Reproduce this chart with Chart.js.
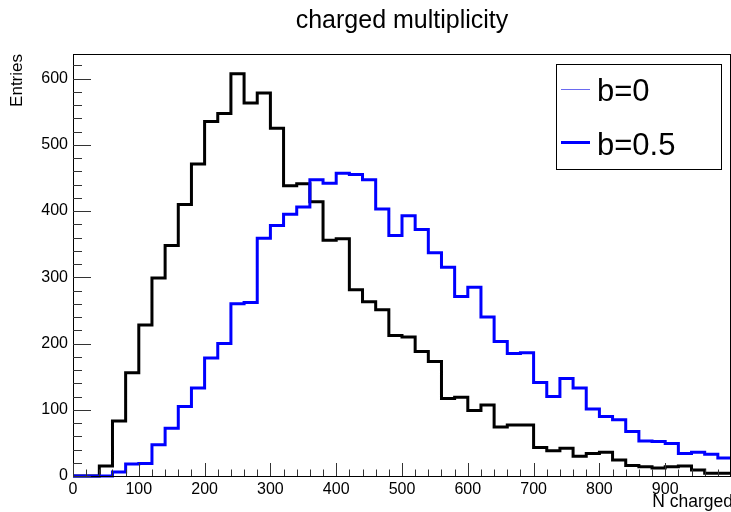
<!DOCTYPE html>
<html>
<head>
<meta charset="utf-8">
<title>charged multiplicity</title>
<script src="https://cdn.jsdelivr.net/npm/chart.js@4.4.1/dist/chart.umd.min.js"></script>
<style>
  html, body { margin: 0; padding: 0; background: #fff; }
  canvas { display: block; }
</style>
</head>
<body>
<canvas id="mult" width="731" height="512"></canvas>
<script>
// Histogram bins: lower edges of N charged, 20 wide
const binLow = [
  0, 20, 40, 60, 80, 100, 120, 140, 160, 180,
  200, 220, 240, 260, 280, 300, 320, 340, 360, 380,
  400, 420, 440, 460, 480, 500, 520, 540, 560, 580,
  600, 620, 640, 660, 680, 700, 720, 740, 760, 780,
  800, 820, 840, 860, 880, 900, 920, 940, 960, 980
];
const binWidth = 20;

// Entries per bin, impact parameter b=0
const entriesB0 = [
  0, 0, 15, 83, 156, 228, 299, 348, 410, 471,
  535, 547, 607, 563, 578, 525, 438, 441, 414, 356,
  358, 281, 263, 251, 212, 210, 188, 173, 117, 119,
  99, 107, 74, 77, 77, 43, 38, 42, 30, 34,
  36, 24, 16, 14, 12, 14, 15, 9, 4, 4
];

// Entries per bin, b=0.5
const entriesB05 = [
  0, 0, 0, 6, 18, 19, 47, 72, 105, 133,
  178, 200, 260, 262, 359, 378, 395, 406, 447, 442,
  457, 455, 447, 403, 363, 393, 372, 337, 315, 271,
  285, 240, 203, 185, 186, 141, 120, 147, 133, 101,
  90, 85, 67, 53, 52, 49, 34, 36, 33, 27
];

const xTickLabels = [0, 100, 200, 300, 400, 500, 600, 700, 800, 900];
const yTickLabels = [0, 100, 200, 300, 400, 500, 600];

const FONT = '"Liberation Sans", Arial, Helvetica, sans-serif';
const X_MAX = binLow[binLow.length - 1] + binWidth;
const Y_MAX = 637;

// step outline: a point at each lower edge, plus the last upper edge;
// drawn with stepped 'before' so each bin keeps its own count across its width
function stepPoints(values) {
  const pts = binLow.map((x, i) => ({ x: x, y: values[i] }));
  pts.push({ x: X_MAX, y: values[values.length - 1] });
  return pts;
}

// ROOT-style frame, inward ticks, titles and legend box
const rootDecor = {
  id: 'rootDecor',
  afterDatasetsDraw(chart) {
    const { ctx, chartArea: a, scales: { x, y } } = chart;
    ctx.save();
    ctx.strokeStyle = '#000';
    ctx.lineWidth = 1;
    ctx.strokeRect(a.left + 0.5, a.top + 0.5, a.right - a.left - 1, a.bottom - a.top);

    ctx.strokeStyle = '#333';
    ctx.beginPath();
    for (let v = 0; v <= Y_MAX; v += 20) {
      const py = Math.round(y.getPixelForValue(v)) + 0.5;
      const len = v % 100 === 0 ? 18 : 9;
      ctx.moveTo(a.left, py);
      ctx.lineTo(a.left + len, py);
    }
    for (let v = 0; v <= X_MAX; v += 20) {
      const px = Math.round(x.getPixelForValue(v)) + 0.5;
      const len = v % 100 === 0 ? 13 : 6.5;
      ctx.moveTo(px, a.bottom);
      ctx.lineTo(px, a.bottom - len);
    }
    ctx.stroke();
    ctx.restore();
  },
  afterDraw(chart) {
    const { ctx, chartArea: a } = chart;
    ctx.save();
    ctx.fillStyle = '#000';

    // title
    ctx.font = '25px ' + FONT;
    ctx.textAlign = 'center';
    ctx.textBaseline = 'alphabetic';
    ctx.fillText('charged multiplicity', 402, 28);

    // x title, right aligned to frame end
    ctx.font = '17.5px ' + FONT;
    ctx.textAlign = 'right';
    ctx.fillText('N charged', 733, 507);

    // y title, rotated, aligned to frame top
    ctx.save();
    ctx.translate(22, a.top);
    ctx.rotate(-Math.PI / 2);
    ctx.font = '17px ' + FONT;
    ctx.textAlign = 'right';
    ctx.fillText('Entries', 0, 0);
    ctx.restore();

    // legend box
    const bx = 556, by = 64, bw = 165, bh = 105;
    ctx.fillStyle = '#fff';
    ctx.fillRect(bx, by, bw, bh);
    ctx.strokeStyle = '#000';
    ctx.lineWidth = 1;
    ctx.strokeRect(bx + 0.5, by + 0.5, bw, bh);

    ctx.strokeStyle = '#6a6af0';
    ctx.lineWidth = 1;
    ctx.beginPath();
    ctx.moveTo(561, 89.5);
    ctx.lineTo(590, 89.5);
    ctx.stroke();

    ctx.strokeStyle = '#0000ff';
    ctx.lineWidth = 3;
    ctx.beginPath();
    ctx.moveTo(561, 142.5);
    ctx.lineTo(590, 142.5);
    ctx.stroke();

    ctx.fillStyle = '#000';
    ctx.font = '31px ' + FONT;
    ctx.textAlign = 'left';
    ctx.fillText('b=0', 597, 101);
    ctx.fillText('b=0.5', 597, 155);
    ctx.restore();
  }
};

new Chart(document.getElementById('mult'), {
  type: 'line',
  data: {
    datasets: [
      {
        label: 'b=0.5',
        data: stepPoints(entriesB05),
        borderColor: '#0000ff',
        borderWidth: 3,
        stepped: 'before',
        pointRadius: 0,
        fill: false,
        clip: 4
      },
      {
        label: 'b=0',
        data: stepPoints(entriesB0),
        borderColor: '#000000',
        borderWidth: 3,
        stepped: 'before',
        pointRadius: 0,
        fill: false,
        clip: 4
      }
    ]
  },
  options: {
    responsive: false,
    animation: false,
    events: [],
    layout: { padding: { top: 54, right: 0, bottom: 0, left: 0 } },
    plugins: {
      legend: { display: false },
      tooltip: { enabled: false },
      title: { display: false }
    },
    scales: {
      x: {
        type: 'linear',
        min: 0,
        max: X_MAX,
        grid: { display: false, drawTicks: false },
        border: { display: false },
        afterBuildTicks: s => { s.ticks = xTickLabels.map(v => ({ value: v })); },
        afterFit: s => { s.height = 36; },
        ticks: {
          padding: 4,
          maxRotation: 0,
          autoSkip: false,
          color: '#000',
          font: { family: FONT, size: 16 }
        }
      },
      y: {
        min: 0,
        max: Y_MAX,
        grid: { display: false, drawTicks: false },
        border: { display: false },
        afterBuildTicks: s => { s.ticks = yTickLabels.map(v => ({ value: v })); },
        afterFit: s => { s.width = 73; },
        ticks: {
          padding: 5,
          color: '#000',
          font: { family: FONT, size: 16 }
        }
      }
    }
  },
  plugins: [rootDecor]
});
</script>
</body>
</html>
